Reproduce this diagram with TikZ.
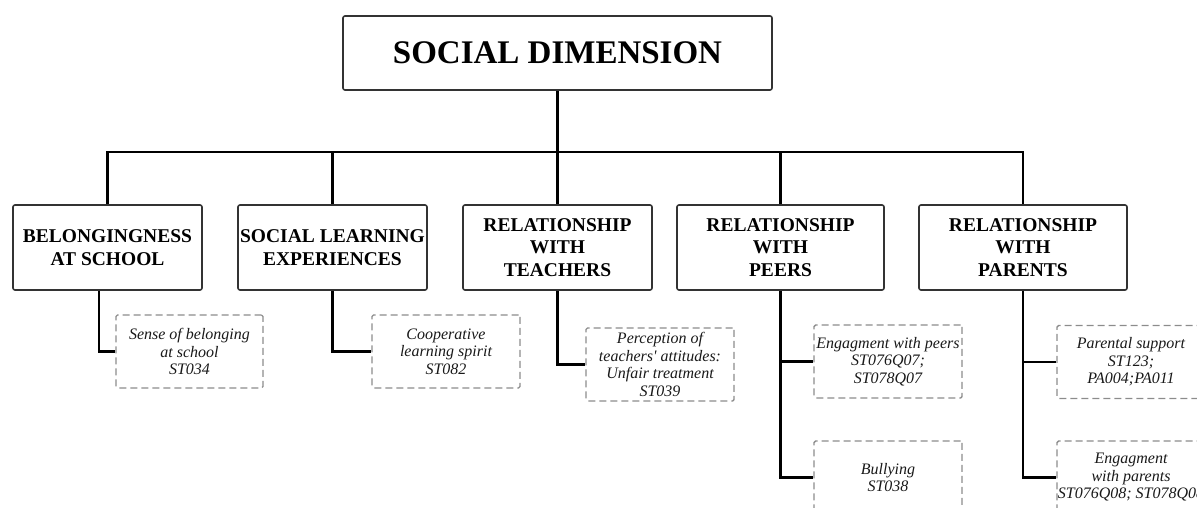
\documentclass[tikz,border=0pt]{standalone}
\usepackage{fontspec}
\setmainfont{Liberation Serif}
\newfontfamily\itemfont{Liberation Serif}
\usepackage{xcolor}
\usepackage{tikz}
\usetikzlibrary{positioning}

\tikzset{
  dimbox/.style={draw=black!80, line width=1.6pt, rounded corners=2pt, inner sep=0pt,
    align=center, font=\bfseries\fontsize{19.5}{22.5}\selectfont},
  itembox/.style={draw=black!45, line width=1.4pt, dash pattern=on 7pt off 4pt,
    rounded corners=1.5pt, inner sep=0pt, minimum width=148pt, minimum height=73pt,
    align=center, text=black!90, font=\itemfont\itshape\fontsize{16}{17.5}\selectfont},
  link/.style={line width=2.2pt, black}
}

\begin{document}
\begin{tikzpicture}[x=1pt, y=-1pt]
  \useasboundingbox (0,0) rectangle (1197,508);
  \clip (0,0) rectangle (1197,508);

  % top of the tree
  \node[dimbox, minimum width=429pt, minimum height=74pt,
    font=\bfseries\fontsize{33}{36}\selectfont] (top) at (557.5,53) {SOCIAL DIMENSION};
  \coordinate (bus) at (0,152);

  % the five dimensions
  \node[dimbox, minimum width=189pt, minimum height=85pt] (belong) at (107.5,247.5) {BELONGINGNESS\\AT SCHOOL};
  \node[dimbox, minimum width=189pt, minimum height=85pt] (learn) at (332.5,247.5) {SOCIAL LEARNING\\EXPERIENCES};
  \node[dimbox, minimum width=189pt, minimum height=85pt] (teach) at (557.5,247.5) {RELATIONSHIP\\WITH\\TEACHERS};
  \node[dimbox, minimum width=207pt, minimum height=85pt] (peers) at (780.5,247.5) {RELATIONSHIP\\WITH\\PEERS};
  \node[dimbox, minimum width=208pt, minimum height=85pt] (parents) at (1023,247.5) {RELATIONSHIP\\WITH\\PARENTS};

  \draw[link] (top.south) -- (top.south |- bus);
  \draw[link] (belong.north) -- (belong.north |- bus) -- (parents.north |- bus) -- (parents.north);
  \foreach \n in {learn,teach,peers} {
    \draw[link] (\n.north) -- (\n.north |- bus);
  }

  % indicators
  \node[itembox, minimum width=147pt] (sense) at (189.5,351.5) {Sense of belonging\\at school\\ST034};
  \node[itembox] (coop) at (446,351.5) {Cooperative\\learning spirit\\ST082};
  \node[itembox] (unfair) at (660,364.5) {Perception of\\teachers' attitudes:\\Unfair treatment\\ST039};
  \node[itembox] (engpeers) at (888,361.5) {Engagment with peers\\ST076Q07;\\ST078Q07};
  \node[itembox] (bully) at (888,477.5) {Bullying\\ST038};
  \node[itembox] (support) at (1131,362) {Parental support\\ST123;\\PA004;PA011};
  \node[itembox] (engparents) at (1131,477.5) {Engagment\\with parents\\ST076Q08; ST078Q08};

  \draw[link] ([xshift=-8.5pt]belong.south) |- (sense.west);
  \draw[link] (learn.south) |- (coop.west);
  \draw[link] (teach.south) |- (unfair.west);
  \draw[link] (peers.south) |- (engpeers.west);
  \draw[link] (peers.south) |- (bully.west);
  \draw[link] (parents.south) |- (support.west);
  \draw[link] (parents.south) |- (engparents.west);
\end{tikzpicture}
\end{document}
